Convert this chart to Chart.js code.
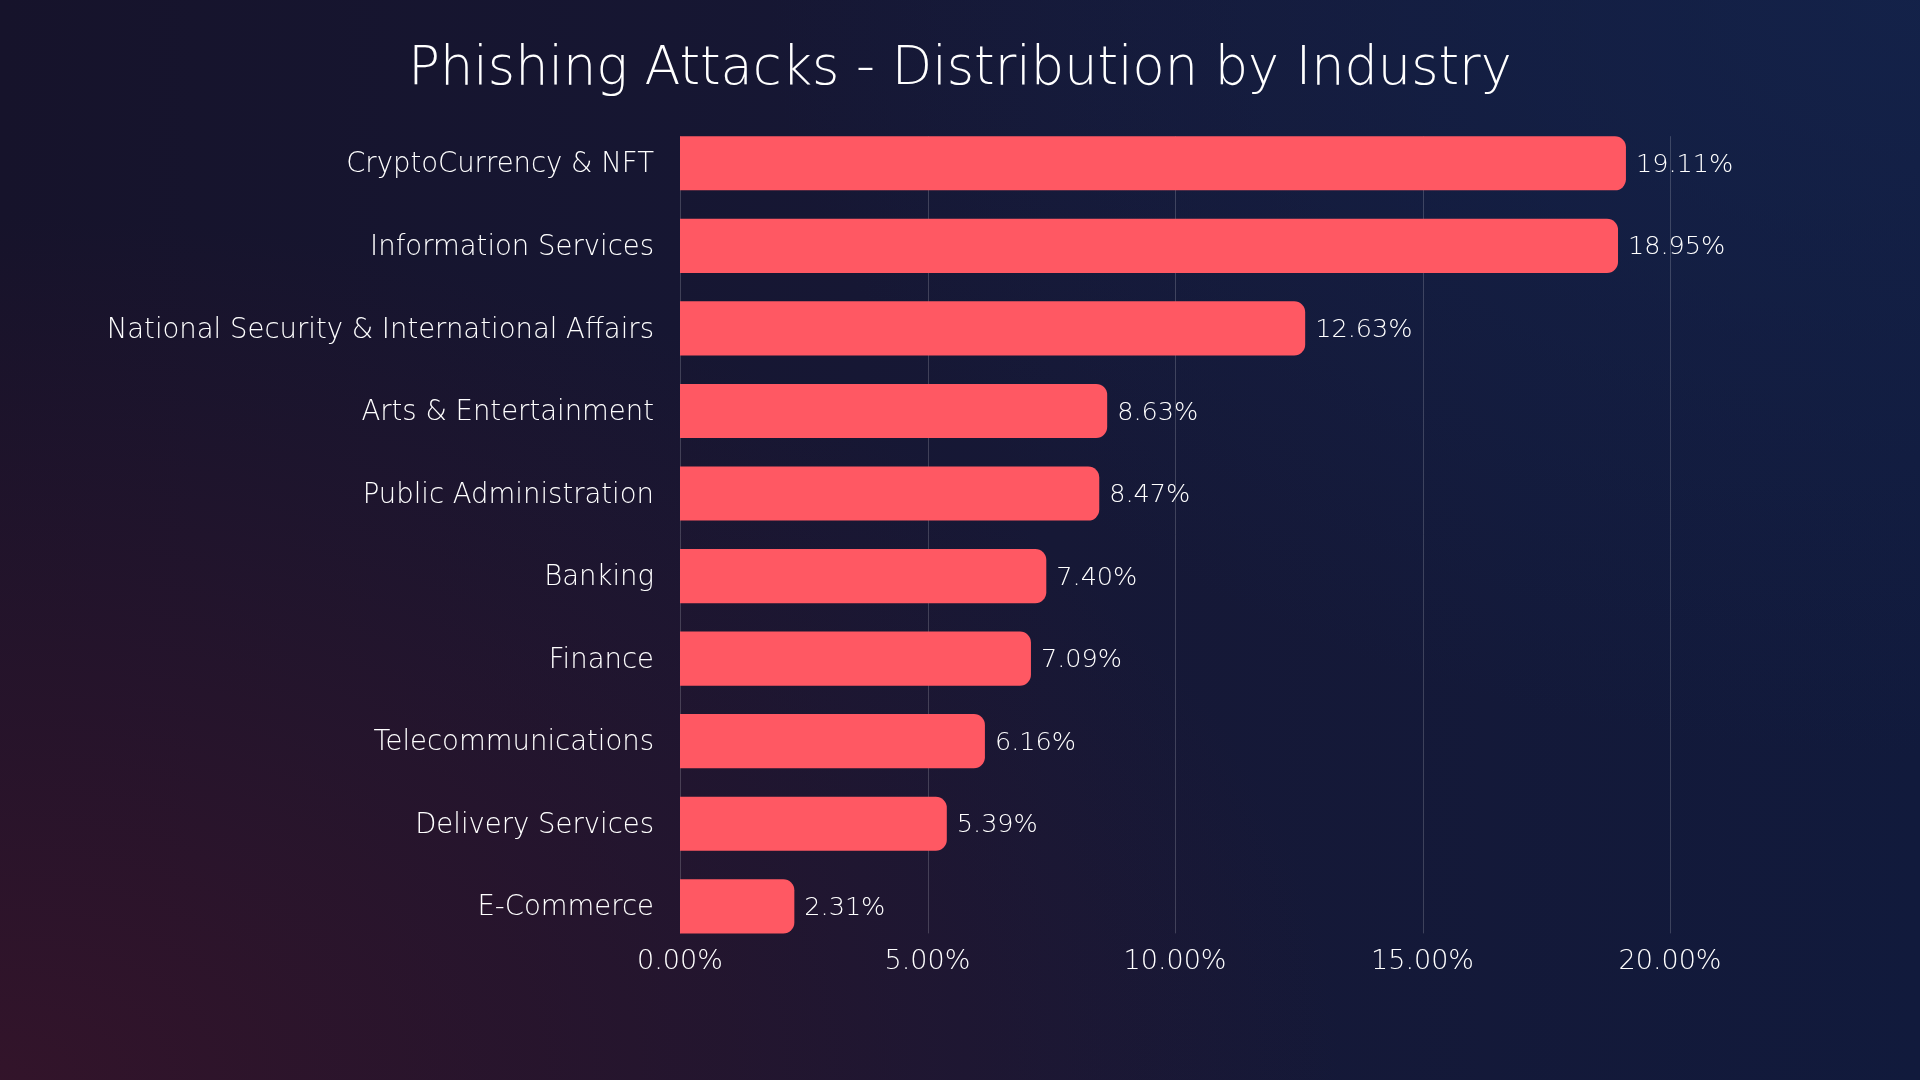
<!DOCTYPE html>
<html>
<head>
<meta charset="utf-8">
<script src="https://cdn.jsdelivr.net/npm/chart.js@4"></script>
<style>
  html, body { margin: 0; padding: 0; }
  body {
    width: 1920px; height: 1080px; overflow: hidden;
    background:
      radial-gradient(ellipse 70% 80% at 0% 100%, rgba(52, 20, 42, 0.95) 0%, rgba(52, 20, 42, 0) 100%),
      radial-gradient(ellipse 60% 70% at 100% 0%, rgba(20, 35, 75, 0.85) 0%, rgba(20, 35, 75, 0) 100%),
      linear-gradient(to right, #16132b 0%, #161836 55%, #111a3c 100%);
  }
  #wrap { position: relative; width: 1920px; height: 1080px; }
</style>
</head>
<body>
<div id="wrap"><canvas id="phishing"></canvas></div>
<script>
const industries = [
    "CryptoCurrency & NFT",
    "Information Services",
    "National Security & International Affairs",
    "Arts & Entertainment",
    "Public Administration",
    "Banking",
    "Finance",
    "Telecommunications",
    "Delivery Services",
    "E-Commerce"
];
const shares = [19.11, 18.95, 12.63, 8.63, 8.47, 7.40, 7.09, 6.16, 5.39, 2.31];
const xTicks = [0, 5, 10, 15, 20];
const TITLE = "Phishing Attacks - Distribution by Industry";

const FONT = "'DejaVu Sans', 'Open Sans', sans-serif";
const BAR_COLOR = "#ff5863";
const TEXT_COLOR = "#ffffff";

// title centred on the whole canvas, not on the plot area
const pageTitle = {
    id: "pageTitle",
    afterDraw(chart) {
        const ctx = chart.ctx;
        ctx.save();
        ctx.font = `200 52.5px ${FONT}`;
        ctx.fillStyle = TEXT_COLOR;
        ctx.textAlign = "center";
        ctx.textBaseline = "middle";
        ctx.fillText(TITLE, chart.width / 2, 70);
        ctx.restore();
    }
};

// percent labels just past the end of each bar
const valueLabels = {
    id: "valueLabels",
    afterDatasetsDraw(chart) {
        const ctx = chart.ctx;
        const meta = chart.getDatasetMeta(0);
        ctx.save();
        ctx.font = `200 25.5px ${FONT}`;
        ctx.fillStyle = TEXT_COLOR;
        ctx.textAlign = "left";
        ctx.textBaseline = "middle";
        meta.data.forEach((bar, i) => {
            ctx.fillText(shares[i].toFixed(2) + "%", bar.x + 10, bar.y + 2);
        });
        ctx.restore();
    }
};

// vertical grid lines only between first bar top and last bar bottom
const barGrid = {
    id: "barGrid",
    beforeDatasetsDraw(chart) {
        const ctx = chart.ctx;
        const bars = chart.getDatasetMeta(0).data;
        const first = bars[0], last = bars[bars.length - 1];
        const top = first.y - first.height / 2;
        const bottom = last.y + last.height / 2;
        const xs = chart.scales.x;
        ctx.save();
        ctx.strokeStyle = "rgba(255,255,255,0.18)";
        ctx.lineWidth = 1;
        xs.ticks.forEach((t, i) => {
            const x = Math.round(xs.getPixelForTick(i)) + 0.5;
            ctx.beginPath();
            ctx.moveTo(x, top);
            ctx.lineTo(x, bottom);
            ctx.stroke();
        });
        ctx.restore();
    }
};

const chart = new Chart("phishing", {
    type: "bar",
    data: {
        labels: industries,
        datasets: [{
            data: shares,
            backgroundColor: BAR_COLOR,
            borderRadius: 11,
            borderSkipped: "start",
            categoryPercentage: 1,
            barPercentage: 0.656
        }]
    },
    options: {
        indexAxis: "y",
        responsive: true,
        maintainAspectRatio: false,
        animation: false,
        layout: { padding: { top: 122, right: 250, bottom: 104, left: 0 } },
        plugins: {
            legend: { display: false },
            tooltip: { enabled: false },
            title: { display: false }
        },
        scales: {
            x: {
                min: 0,
                max: 20,
                afterBuildTicks: (scale) => { scale.ticks = xTicks.map(v => ({ value: v })); },
                grid: { display: false, drawTicks: false },
                border: { display: false },
                ticks: {
                    color: TEXT_COLOR,
                    padding: -2,
                    font: { family: FONT, size: 27, weight: "200" },
                    callback: (v) => Number(v).toFixed(2) + "%"
                }
            },
            y: {
                afterFit: (scale) => { scale.width = 680; },
                grid: { display: false, drawTicks: false },
                border: { display: false },
                ticks: {
                    color: TEXT_COLOR,
                    padding: 26,
                    labelOffset: 2,
                    font: { family: FONT, size: 27.5, weight: "200" }
                }
            }
        }
    },
    plugins: [barGrid, valueLabels, pageTitle]
});
</script>
</body>
</html>
